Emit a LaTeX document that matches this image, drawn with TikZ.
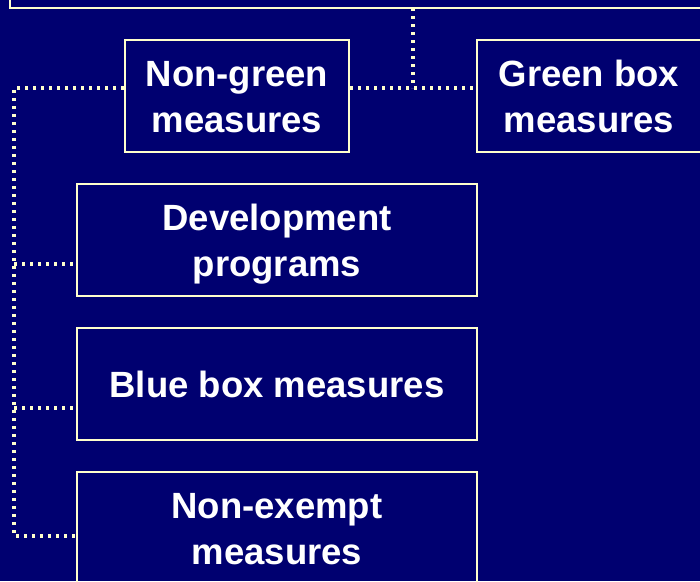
\documentclass[tikz,border=0pt]{standalone}
\usepackage{fontspec}
\setmainfont{Liberation Sans}
\definecolor{navybg}{RGB}{0,0,112}
\definecolor{creamln}{RGB}{255,255,204}
\newcommand{\topstrut}{\rule{0pt}{35.5pt}}
\newcommand{\botstrut}{\rule[-7.7pt]{0pt}{7.7pt}}
\begin{document}
\begin{tikzpicture}[x=1pt,y=-1pt,
  box/.style={draw=creamln,line width=2pt,minimum height=112pt,inner sep=0pt,
    text=white,font=\fontsize{36.5}{46}\selectfont\bfseries,align=center},
  dots/.style={draw=creamln,line width=3.4pt,dash pattern=on 3.4pt off 4.6pt}]
\fill[navybg] (0,0) rectangle (700,581);
\useasboundingbox (0,0) rectangle (700,581);
\begin{scope}
\clip (0,0) rectangle (700,581);
\draw[creamln,line width=2pt] (10,-20) -- (10,8) -- (720,8);
\coordinate (topc) at (413,8);
\node[box,minimum width=224pt] (ng) at (237,96) {\topstrut Non-green\\measures\botstrut};
\node[box,minimum width=224pt] (gb) at (589,96) {\topstrut Green box\\measures\botstrut};
\node[box,minimum width=400pt] (dev) at (277,240) {\topstrut Development\\programs\botstrut};
\node[box,minimum width=400pt] (blue) at (277,384) {Blue box measures};
\node[box,minimum width=400pt] (ne) at (277,528) {\topstrut Non-exempt\\measures\botstrut};
\coordinate (jn) at (413,88);
\coordinate (lt) at (14,88);
\coordinate (bd) at (14,264);
\coordinate (bb) at (14,408);
\coordinate (bn) at (14,536);
\draw[dots] (topc) -- (jn);
\draw[dots] (ng.east |- jn) -- (gb.west |- jn);
\draw[dots] (ng.west |- lt) -- (lt) -- (bn) -- (ne.west |- bn);
\draw[dots] (bd) -- (dev.west |- bd);
\draw[dots] (bb) -- (blue.west |- bb);
\end{scope}
\end{tikzpicture}
\end{document}
